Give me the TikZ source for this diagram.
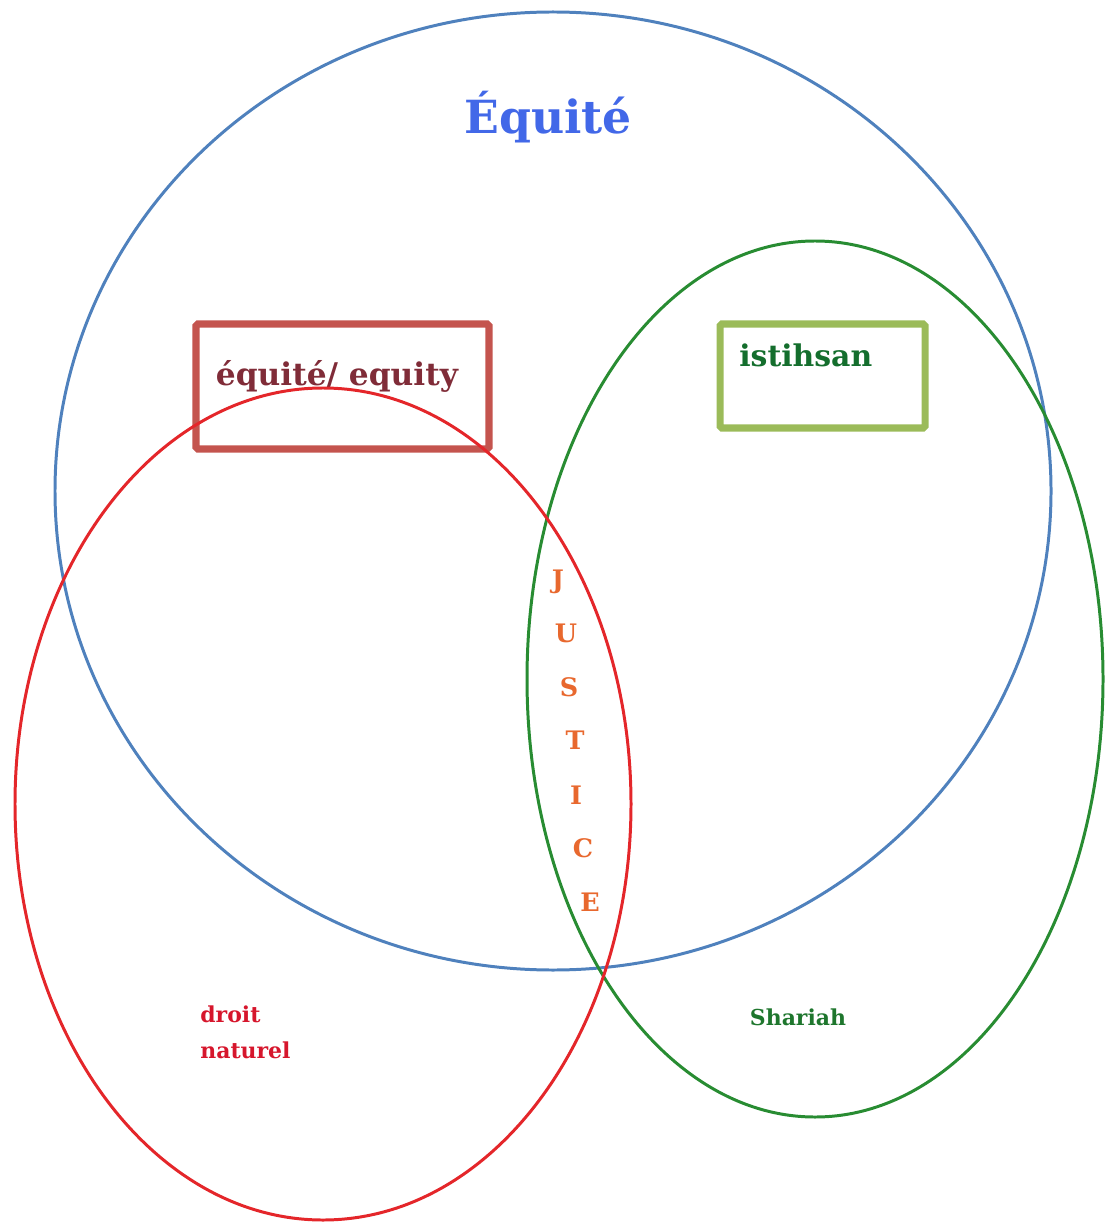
\documentclass[tikz,border=0pt]{standalone}
\usepackage{fontspec}
\setmainfont{DejaVu Serif}
\usetikzlibrary{positioning}

\definecolor{eqblue}{RGB}{79,129,189}
\definecolor{eqtext}{RGB}{66,104,232}
\definecolor{natred}{RGB}{228,38,42}
\definecolor{shagreen}{RGB}{40,140,50}
\definecolor{boxred}{RGB}{196,84,78}
\definecolor{boxgreen}{RGB}{155,187,89}
\definecolor{equred}{RGB}{128,44,56}
\definecolor{istgreen}{RGB}{20,110,45}
\definecolor{jusorange}{RGB}{232,104,46}
\definecolor{txtred}{RGB}{214,22,44}
\definecolor{txtgreen}{RGB}{30,118,45}

\begin{document}
\begin{tikzpicture}[
  x=0.02cm, y=-0.02cm,
  font=\bfseries,
  ring/.style={line width=1.7pt},
  frame/.style={line width=4pt, rounded corners=1pt},
  lbl/.style={inner sep=0pt, align=left},
  letter/.style={inner sep=0pt, font=\fontsize{14.5}{14.5}\selectfont\bfseries, text=jusorange},
]
  \useasboundingbox (0,0) rectangle (1105,1222);

  % ----- Boxes -----
  \draw[frame, boxred]   (196,324) rectangle (489,449);
  \draw[frame, boxgreen] (720,324) rectangle (925,428);

  \node[lbl, text=equred, font=\fontsize{17.8}{17.8}\selectfont\bfseries] (equ) at (337,376) {équité/ equity};
  \node[lbl, text=istgreen, font=\fontsize{17}{17}\selectfont\bfseries, anchor=west] (ist) at (739,355) {istihsan};

  % ----- Circles -----
  \draw[ring, eqblue]   (553,491) ellipse (498 and 479);
  \draw[ring, shagreen] (815,679) ellipse (288 and 438);
  \draw[ring, natred]   (323,804) ellipse (308 and 416);

  % ----- Labels -----
  \node[lbl, text=eqtext, font=\fontsize{26}{26}\selectfont\bfseries] (equite) at (548,117) {Équité};
  \node[lbl, text=txtred, font=\fontsize{12.5}{20.5}\selectfont\bfseries, anchor=north west] (nat) at (200,1005) {droit\\naturel};
  \node[lbl, text=txtgreen, font=\fontsize{12.5}{12.5}\selectfont\bfseries] (sha) at (798,1017) {Shariah};

  % JUSTICE, one letter per line
  \node[letter] (j1) at (558,582) {J};
  \node[letter] (j2) at (566,633) {U};
  \node[letter] (j3) at (569,687) {S};
  \node[letter] (j4) at (575,740) {T};
  \node[letter] (j5) at (576,795) {I};
  \node[letter] (j6) at (583,848) {C};
  \node[letter] (j7) at (590,902) {E};
\end{tikzpicture}
\end{document}
